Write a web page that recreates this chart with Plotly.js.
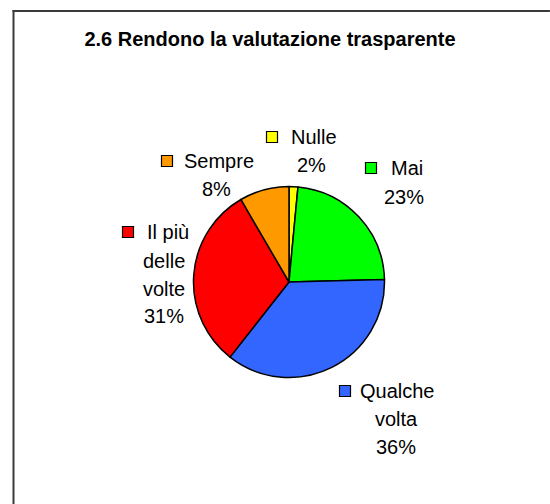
<!DOCTYPE html>
<html>
<head>
<meta charset="utf-8">
<script src="https://cdn.plot.ly/plotly-3.0.1.min.js"></script>
<style>html,body{margin:0;padding:0;background:#fff;overflow:hidden;}#chart{width:550px;height:504px;}</style>
</head>
<body>
<div id="chart"></div>
<script>
// Data
var categories = ["Nulle", "Mai", "Qualche volta", "Il più delle volte", "Sempre"];
var shares = [1.5, 23.1, 36, 31, 8.4];
var pctLabels = ["2%", "23%", "36%", "31%", "8%"];
var labelLines = [["Nulle", "2%"], ["Mai", "23%"], ["Qualche", "volta", "36%"], ["Il più", "delle", "volte", "31%"], ["Sempre", "8%"]];
var colors = ["#FFFF00", "#00FF00", "#3366FF", "#FF0000", "#FF9900"];

var W = 550, H = 504;
function px(x) { return x / W; }
function py(y) { return 1 - y / H; }

// label layout (pixels): key square centre, first line left x, other lines centre x, line y's
var labelPos = [
  {sq: [272, 137], first: 289, cx: 311, ys: [137, 165]},
  {sq: [371, 168], first: 389, cx: 404, ys: [168, 197]},
  {sq: [345, 391], first: 358, cx: 396, ys: [391, 419, 447]},
  {sq: [128, 232], first: 145, cx: 164, ys: [232, 261, 289, 316]},
  {sq: [167, 161], first: 182, cx: 216, ys: [161, 189]}
];

var font = {family: "Liberation Sans, Arial, sans-serif", size: 20, color: "#000"};
var annotations = [];
var shapes = [];
labelPos.forEach(function (p, i) {
  var lines = labelLines[i];
  lines.forEach(function (t, j) {
    annotations.push({
      xref: "paper", yref: "paper",
      x: px(j === 0 ? p.first : p.cx), y: py(p.ys[j]),
      xanchor: j === 0 ? "left" : "center", yanchor: "middle",
      text: t, showarrow: false, font: font
    });
  });
  var s = 5.5;
  shapes.push({
    type: "rect", xref: "paper", yref: "paper",
    x0: px(p.sq[0] - s), x1: px(p.sq[0] + s),
    y0: py(p.sq[1] + s), y1: py(p.sq[1] - s),
    fillcolor: colors[i], line: {color: "#000", width: 1.2}
  });
});
// chart area border (left and top visible), drawn as filled strips
shapes.push({type: "rect", xref: "paper", yref: "paper", x0: px(12.5), x1: px(14.5), y0: 0, y1: py(10), fillcolor: "#3a3a3a", line: {width: 0}});
shapes.push({type: "rect", xref: "paper", yref: "paper", x0: px(12.5), x1: px(549.9), y0: py(12), y1: py(10), fillcolor: "#3a3a3a", line: {width: 0}});

var cx = 289, cy = 282, r = 95.5;
var trace = {
  type: "pie",
  labels: categories,
  values: shares,
  text: pctLabels,
  sort: false,
  direction: "clockwise",
  rotation: 0,
  textinfo: "none",
  hoverinfo: "label+text",
  marker: {colors: colors, line: {color: "#000", width: 1.5}},
  domain: {x: [px(cx - r), px(cx + r)], y: [py(cy + r), py(cy - r)]},
  showlegend: false
};

var layout = {
  width: W, height: H,
  margin: {l: 0, r: 0, t: 0, b: 0},
  paper_bgcolor: "#fff",
  title: {
    text: "<b>2.6 Rendono la valutazione trasparente</b>",
    font: {family: "Liberation Sans, Arial, sans-serif", size: 20, color: "#000"},
    x: px(270), xanchor: "center", y: py(39), yanchor: "middle", xref: "paper", yref: "paper"
  },
  annotations: annotations,
  shapes: shapes,
  showlegend: false
};

Plotly.newPlot("chart", [trace], layout, {displayModeBar: false, staticPlot: true});
</script>
</body>
</html>
